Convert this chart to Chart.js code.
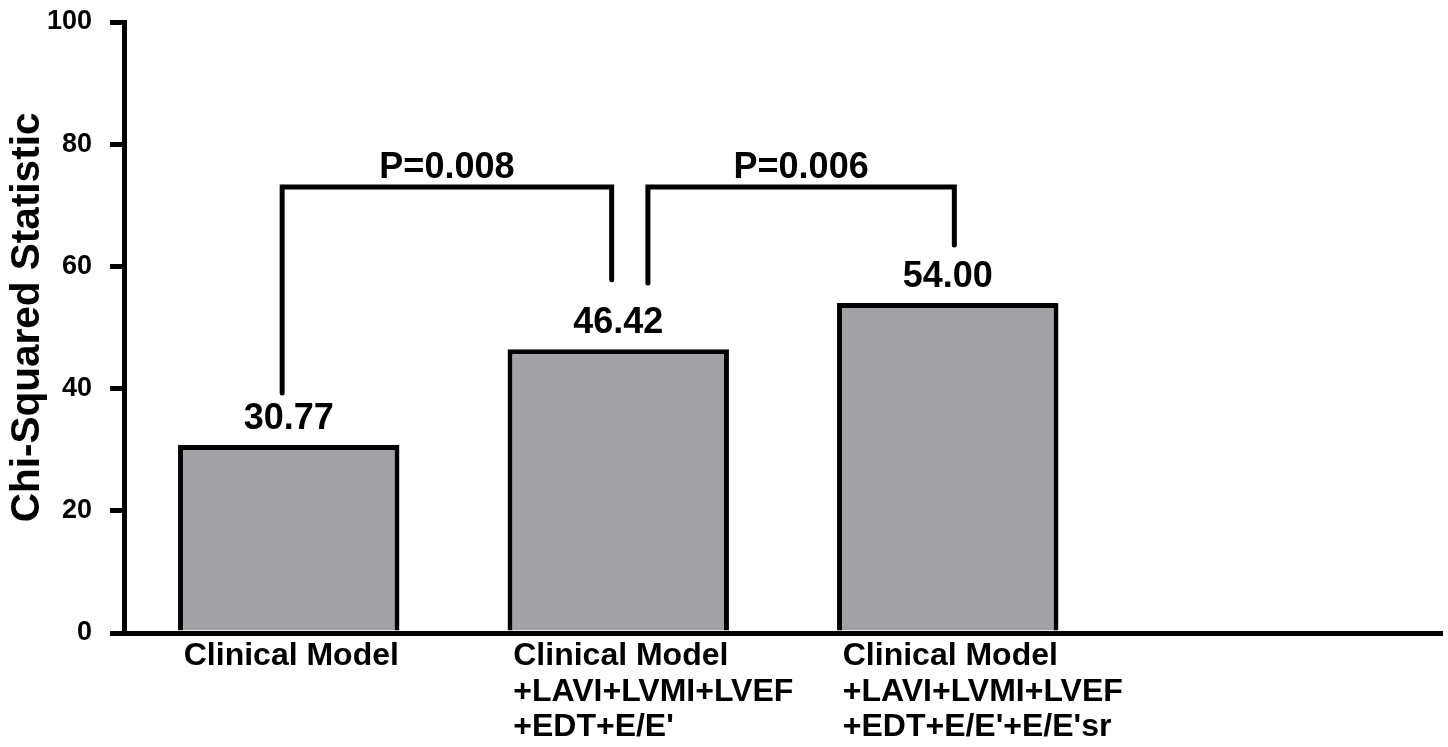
<!DOCTYPE html>
<html>
<head>
<meta charset="utf-8">
<script src="https://cdn.jsdelivr.net/npm/chart.js@4/dist/chart.umd.min.js"></script>
<style>
  body { margin: 0; background: #fff; }
</style>
</head>
<body>
<canvas id="chart" width="1448" height="747"></canvas>
<script>
const categories = [
  ["Clinical Model"],
  ["Clinical Model", "+LAVI+LVMI+LVEF", "+EDT+E/E'"],
  ["Clinical Model", "+LAVI+LVMI+LVEF", "+EDT+E/E'+E/E'sr"],
  "",
];
const chiSquared = [30.77, 46.42, 54.0, null];
const valueLabels = ["30.77", "46.42", "54.00"];
const yTicks = [0, 20, 40, 60, 80, 100];

// comparison brackets (x in category index units, y in chi-squared units)
const bracketLeftX = [-0.02, 1.09];
const bracketRightX = [0.98, 2.02];
const bracketTopY = [73.0, 73.0];
const bracketLeftFoot = [39.3, 57.3];
const bracketRightFoot = [57.8, 63.5];
const pLabels = ["P=0.008", "P=0.006"];

const FONT = "'Liberation Sans', Arial, sans-serif";

const bracketSets = pLabels.map((p, i) => ({
  type: "line",
  label: p,
  xAxisID: "xl",
  yAxisID: "y",
  data: [
    { x: bracketLeftX[i], y: bracketLeftFoot[i] },
    { x: bracketLeftX[i], y: bracketTopY[i] },
    { x: bracketRightX[i], y: bracketTopY[i] },
    { x: bracketRightX[i], y: bracketRightFoot[i] },
  ],
  borderColor: "#000",
  borderWidth: 5,
  borderCapStyle: "round",
  borderJoinStyle: "miter",
  pointRadius: 0,
  fill: false,
  tension: 0,
}));

const labelPlugin = {
  id: "labels",
  afterDatasetsDraw(chart) {
    const ctx = chart.ctx;
    ctx.save();
    ctx.fillStyle = "#000";
    ctx.textAlign = "center";
    ctx.textBaseline = "alphabetic";
    ctx.font = `bold 36px ${FONT}`;
    chart.getDatasetMeta(0).data.forEach((bar, i) => {
      if (valueLabels[i] == null) return;
      ctx.fillText(valueLabels[i], bar.x, bar.y - 16);
    });
    const xl = chart.scales.xl;
    const y = chart.scales.y;
    pLabels.forEach((p, i) => {
      const cx = xl.getPixelForValue((bracketLeftX[i] + bracketRightX[i]) / 2);
      ctx.fillText(p, cx, y.getPixelForValue(bracketTopY[i]) - 9);
    });
    ctx.restore();
  },
};

new Chart(document.getElementById("chart"), {
  type: "bar",
  data: {
    labels: categories,
    datasets: [
      {
        type: "bar",
        label: "Chi-Squared Statistic",
        data: chiSquared,
        backgroundColor: "#a2a1a6",
        borderColor: "#000",
        borderWidth: 5,
        borderSkipped: "start",
        grouped: false,
        categoryPercentage: 1,
        barPercentage: 0.672,
      },
      ...bracketSets,
    ],
  },
  options: {
    responsive: false,
    animation: false,
    devicePixelRatio: 1,
    layout: { padding: { top: 22, right: 6, bottom: 0, left: 0 } },
    plugins: {
      legend: { display: false },
      tooltip: { enabled: false },
    },
    scales: {
      x: {
        type: "category",
        offset: true,
        grid: { display: false, drawTicks: false },
        border: { display: true, color: "#000", width: 5 },
        ticks: {
          color: "#000",
          font: { family: FONT, size: 32, weight: "bold", lineHeight: 1.1 },
          align: "start",
          labelOffset: -105,
          padding: 6,
          autoSkip: false,
          maxRotation: 0,
          minRotation: 0,
        },
        afterFit: (s) => { s.height = 114; },
      },
      xl: {
        type: "linear",
        display: false,
        offset: false,
        min: -0.5,
        max: 3.5,
      },
      y: {
        min: 0,
        max: 100,
        afterBuildTicks: (s) => { s.ticks = yTicks.map((v) => ({ value: v })); },
        grid: {
          drawOnChartArea: false,
          drawTicks: true,
          tickLength: 14,
          lineWidth: 5,
          color: "#000",
        },
        border: { display: true, color: "#000", width: 5 },
        ticks: {
          color: "#000",
          padding: 18,
          font: { family: FONT, size: 27, weight: "bold" },
        },
        title: {
          display: true,
          text: "\u2002Chi-Squared Statistic",
          color: "#000",
          font: { family: FONT, size: 40.5, weight: "bold", lineHeight: 1.2 },
          padding: { top: 4, bottom: 0 },
        },
        afterFit: (s) => {
          s.width = 124;
          s.paddingTop = 0;
          s.paddingBottom = 0;
        },
      },
    },
  },
  plugins: [labelPlugin],
});
</script>
</body>
</html>
